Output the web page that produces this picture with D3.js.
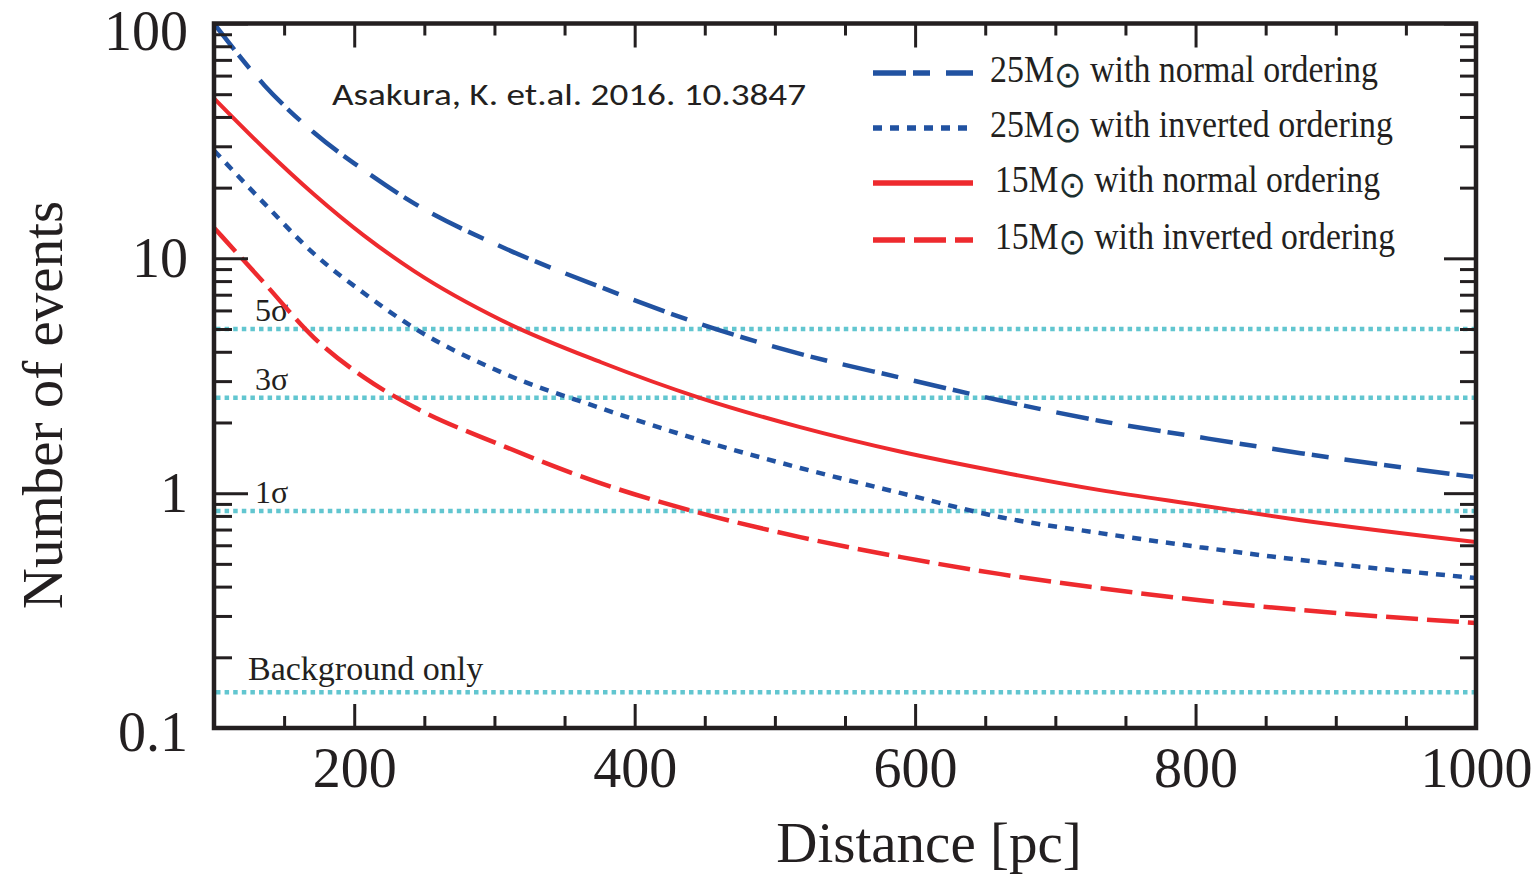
<!DOCTYPE html>
<html>
<head>
<meta charset="utf-8">
<script src="https://cdn.jsdelivr.net/npm/d3@7"></script>
<style>
  body { margin: 0; background: #fff; }
  svg { display: block; }
  text { fill: #231f20; }
</style>
</head>
<body>
<div id="chart"></div>
<script>
const distance = [100, 136, 171, 207, 243, 305, 376, 447, 518, 590, 661, 732, 803, 875, 1000];
const n25Normal = [100, 54.5, 34.4, 23.7, 17.1, 11.2, 7.53, 5.25, 3.92, 3.10, 2.48, 2.03, 1.73, 1.48, 1.17];
const n25Inverted = [28.8, 17.1, 10.5, 7.1, 5.04, 3.27, 2.30, 1.68, 1.28, 1.0, 0.79, 0.676, 0.589, 0.519, 0.435];
const n15Normal = [48.0, 29.3, 18.8, 12.5, 8.8, 5.45, 3.61, 2.54, 1.91, 1.50, 1.23, 1.03, 0.889, 0.767, 0.619];
const n15Inverted = [13.5, 7.83, 4.61, 3.11, 2.32, 1.60, 1.10, 0.822, 0.65, 0.534, 0.452, 0.394, 0.35, 0.318, 0.28];

const seriesMass = ["25M", "25M", "15M", "15M"];
const seriesOrder = ["with normal ordering", "with inverted ordering", "with normal ordering", "with inverted ordering"];

// significance thresholds (horizontal dotted lines)
const levelLabels = ["5σ", "3σ", "1σ", "Background only"];
const levelValues = [5.0, 2.55, 0.84, 0.142];

const xTickLabels = [200, 400, 600, 800, 1000];
const yTickLabels = [0.1, 1, 10, 100];

const width = 1537, height = 876;
const blue = "#2152a1", red = "#ee2a2e", cyan = "#62c6d0", ink = "#231f20";

const svg = d3.select("#chart").append("svg")
  .attr("width", width).attr("height", height);

const x = d3.scaleLinear().domain([100, 1000]).range([214, 1476]);
const y = d3.scaleLog().domain([0.1, 100]).range([728, 23.5]);

svg.append("clipPath").attr("id", "plot")
  .append("rect").attr("x", x(100)).attr("y", y(100))
  .attr("width", x(1000) - x(100)).attr("height", y(0.1) - y(100));

// threshold lines
const levels = svg.append("g");
levelValues.forEach(function (v, i) {
  levels.append("line")
    .attr("x1", x(100) + 2).attr("x2", x(1000))
    .attr("y1", y(v)).attr("y2", y(v))
    .attr("stroke", cyan).attr("stroke-width", 4.5)
    .attr("stroke-dasharray", "4.5,4.1");
  levels.append("text")
    .attr("x", i === 3 ? 248 : 255)
    .attr("y", y(v) - (i === 3 ? 12 : 8))
    .attr("font-family", "Liberation Serif, Times New Roman, serif")
    .attr("font-size", i === 3 ? 34 : 32)
    .text(levelLabels[i]);
});

// curves
const styles = [
  { color: blue, dash: "33,7,17,16", w: 4.5 },
  { color: blue, dash: "9,8", w: 4.5 },
  { color: red, dash: null, w: 4 },
  { color: red, dash: "32,9", w: 4.5 }
];
const series = [n25Normal, n25Inverted, n15Normal, n15Inverted];

const line = d3.line()
  .x(function (d, i) { return x(distance[i]); })
  .y(function (d) { return y(d); })
  .curve(d3.curveMonotoneX);

svg.append("g").attr("clip-path", "url(#plot)")
  .selectAll("path").data(series).enter().append("path")
  .attr("d", line)
  .attr("fill", "none")
  .attr("stroke", function (d, i) { return styles[i].color; })
  .attr("stroke-width", function (d, i) { return styles[i].w; })
  .attr("stroke-dasharray", function (d, i) { return styles[i].dash; });

// axes: ticks point inward on all four sides
const xTicks = d3.range(100, 1001, 50);
const yTicks = y.ticks();
const isMajorX = d => d % 200 === 0;
const isMajorY = d => Math.abs(Math.log10(d) - Math.round(Math.log10(d))) < 1e-6;
const serif = "Liberation Serif, Times New Roman, serif";

const gBottom = svg.append("g").attr("transform", "translate(0," + y(0.1) + ")")
  .call(d3.axisBottom(x).tickValues(xTicks).tickSize(0)
    .tickFormat(d => xTickLabels.indexOf(d) >= 0 ? d : ""));
gBottom.selectAll(".tick line").attr("y2", d => isMajorX(d) ? -24 : -12);
gBottom.selectAll(".tick text").attr("y", 59).attr("dy", null)
  .attr("font-size", 56).attr("font-family", serif).attr("fill", ink);

const gTop = svg.append("g").attr("transform", "translate(0," + y(100) + ")")
  .call(d3.axisTop(x).tickValues(xTicks).tickSize(0).tickFormat(""));
gTop.selectAll(".tick line").attr("y2", d => isMajorX(d) ? 24 : 12);

const gLeft = svg.append("g").attr("transform", "translate(" + x(100) + ",0)")
  .call(d3.axisLeft(y).tickValues(yTicks).tickSize(0).tickPadding(26)
    .tickFormat(d => yTickLabels.indexOf(d) >= 0 ? String(d) : ""));
gLeft.selectAll(".tick line").attr("x2", d => isMajorY(d) ? 34 : 18);
gLeft.selectAll(".tick text")
  .attr("font-size", 56).attr("font-family", serif).attr("fill", ink)
  .attr("y", d => d === 100 ? 8 : d === 0.1 ? 5 : 0);

const gRight = svg.append("g").attr("transform", "translate(" + x(1000) + ",0)")
  .call(d3.axisRight(y).tickValues(yTicks).tickSize(0).tickFormat(""));
gRight.selectAll(".tick line").attr("x2", d => isMajorY(d) ? -32 : -16);

svg.selectAll(".domain").remove();
svg.selectAll(".tick line").attr("stroke", ink).attr("stroke-width", 3);

// frame
svg.append("rect")
  .attr("x", x(100)).attr("y", y(100))
  .attr("width", x(1000) - x(100)).attr("height", y(0.1) - y(100))
  .attr("fill", "none").attr("stroke", ink).attr("stroke-width", 4.5);

// axis titles
svg.append("text")
  .attr("x", 929).attr("y", 862)
  .attr("text-anchor", "middle")
  .attr("font-family", serif).attr("font-size", 57)
  .text("Distance [pc]");

svg.append("text")
  .attr("transform", "translate(62,405) rotate(-90)")
  .attr("text-anchor", "middle")
  .attr("font-family", serif).attr("font-size", 57)
  .text("Number of events");

// citation note
svg.append("text")
  .attr("x", 332).attr("y", 105)
  .attr("font-family", "Carlito, Calibri, Open Sans, Noto Sans, sans-serif")
  .attr("font-size", 31)
  .attr("textLength", 474).attr("lengthAdjust", "spacingAndGlyphs")
  .text("Asakura, K. et.al. 2016. 10.3847");

// legend
const legendRows = [73, 128, 183, 240];
const legendTextX = [990, 990, 995, 995];
const legendTextW = [388, 403, 385, 400];
const legend = svg.append("g");
seriesMass.forEach(function (m, i) {
  legend.append("line")
    .attr("x1", 873).attr("x2", 973)
    .attr("y1", legendRows[i]).attr("y2", legendRows[i])
    .attr("stroke", styles[i].color).attr("stroke-width", 5.5)
    .attr("stroke-dasharray", styles[i].dash);
  const t = legend.append("text")
    .attr("x", legendTextX[i]).attr("y", legendRows[i] + 9)
    .attr("font-family", serif).attr("font-size", 37)
    .attr("textLength", legendTextW[i]).attr("lengthAdjust", "spacingAndGlyphs");
  t.append("tspan").text(m);
  t.append("tspan").attr("dy", 5).attr("font-family", "DejaVu Sans, sans-serif")
    .attr("font-size", 36).style("fill", "#1c3030").text("⊙");
  t.append("tspan").attr("dy", -5).text(" " + seriesOrder[i]);
});
</script>
</body>
</html>
